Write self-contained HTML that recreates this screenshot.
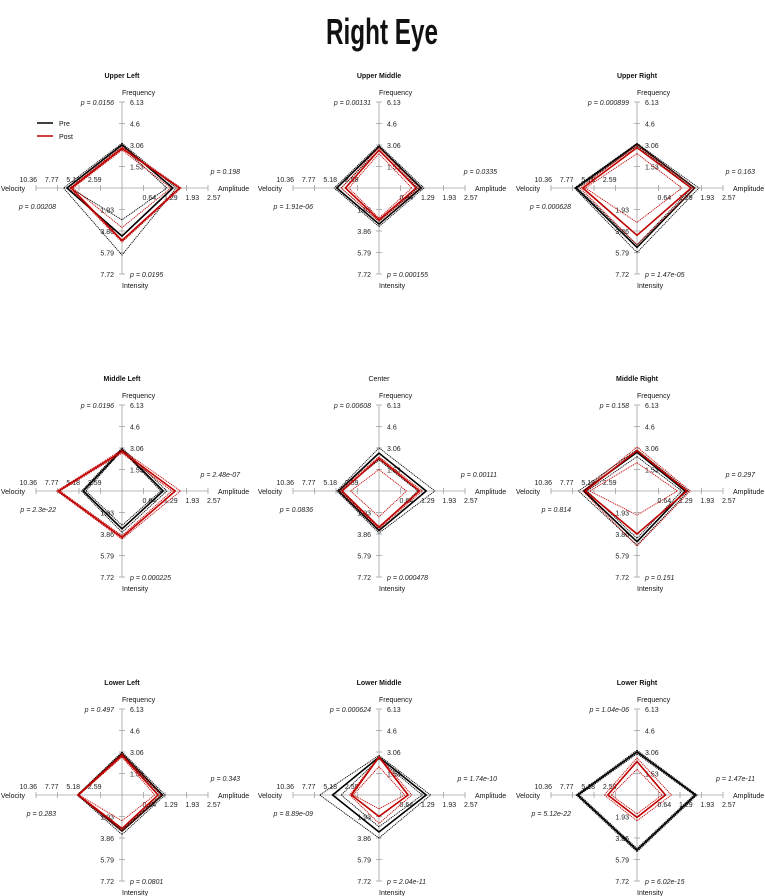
<!DOCTYPE html>
<html><head><meta charset="utf-8"><style>
html,body{margin:0;padding:0;background:#fff;}
svg{display:block;font-family:"Liberation Sans",sans-serif;}
</style></head><body>
<svg id="chart" width="765" height="896" viewBox="0 0 765 896">
<text x="382" y="44" text-anchor="middle" font-size="36" font-weight="bold" textLength="112" lengthAdjust="spacingAndGlyphs" fill="#111">Right Eye</text>
</svg>
<script>
const panelTitles = ["Upper Left","Upper Middle","Upper Right","Middle Left","Center","Middle Right","Lower Left","Lower Middle","Lower Right"];
const axisNames = ["Frequency","Amplitude","Velocity","Intensity"];
const axisMax = [6.13, 2.57, 10.36, 7.72];
const freqTicks = ["1.53","3.06","4.6","6.13"];
const ampTicks = ["0.64","1.29","1.93","2.57"];
const velTicks = ["2.59","5.18","7.77","10.36"];
const intTicks = ["1.93","3.86","5.79","7.72"];
// values per panel: [Frequency, Amplitude, Velocity, Intensity]
const preMean = [[3.07,1.52,6.63,4.32],[2.94,1.26,5.08,3.24],[3.13,1.72,7.36,5.33],[2.94,1.23,4.66,3.40],[2.70,1.41,4.87,3.55],[2.76,1.44,6.42,4.55],[2.94,1.21,5.28,3.24],[2.70,1.41,5.59,3.32],[3.07,1.75,7.15,4.94]];
const preLo = [[2.94,1.34,6.22,2.86],[2.70,1.16,4.56,3.01],[3.00,1.64,7.15,5.10],[2.88,1.16,4.35,3.09],[2.21,1.16,4.66,3.32],[2.45,1.34,6.01,4.25],[2.82,1.16,5.18,3.09],[2.58,1.29,4.56,2.86],[2.94,1.70,6.94,4.79]];
const preHi = [[3.19,1.62,7.04,6.02],[3.07,1.34,5.39,3.47],[3.19,1.85,7.56,5.79],[3.07,1.34,4.87,3.71],[3.07,1.67,5.08,3.78],[2.94,1.54,7.04,4.86],[3.07,1.29,5.39,3.55],[2.82,1.54,7.15,3.86],[3.19,1.80,7.36,5.10]];
const postMean = [[2.82,1.72,6.11,4.71],[2.70,1.11,4.04,2.86],[2.88,1.62,6.53,4.25],[2.82,1.59,7.67,4.17],[2.33,1.21,4.45,3.24],[2.88,1.49,6.22,3.86],[2.82,1.08,5.28,3.01],[2.70,0.87,3.32,1.93],[2.39,0.85,3.52,2.01]];
const postLo = [[2.70,1.46,5.91,3.55],[2.45,0.98,3.63,2.70],[2.45,1.34,6.22,3.09],[2.70,1.49,7.46,4.01],[1.53,0.82,3.42,2.32],[2.02,1.21,5.70,2.16],[2.70,0.98,5.18,2.32],[2.02,0.77,3.11,1.24],[1.84,0.75,3.11,1.70]];
const postHi = [[2.94,1.77,6.32,4.86],[2.88,1.21,4.56,3.01],[3.07,1.72,6.84,5.10],[2.94,1.75,7.87,4.32],[2.45,1.29,4.77,3.40],[3.13,1.59,6.53,4.94],[2.94,1.18,5.39,3.24],[2.76,0.98,3.52,2.55],[2.64,1.03,3.94,2.32]];
const pFreq = ["0.0156","0.00131","0.000899","0.0196","0.00608","0.158","0.497","0.000624","1.04e-06"];
const pAmp = ["0.198","0.0335","0.163","2.48e-07","0.00111","0.297","0.343","1.74e-10","1.47e-11"];
const pVel = ["0.00208","1.91e-06","0.000628","2.3e-22","0.0836","0.814","0.283","8.89e-09","5.12e-22"];
const pInt = ["0.0195","0.000155","1.47e-05","0.000225","0.000478","0.151","0.0801","2.04e-11","6.02e-15"];

const NS = "http://www.w3.org/2000/svg";
const svg = document.getElementById("chart");
const R = 86;
const colX = [122, 379, 637], rowY = [188, 491, 795];
function mk(tag, attrs, parent, txt) {
  const e = document.createElementNS(NS, tag);
  for (const k in attrs) e.setAttribute(k, attrs[k]);
  if (txt !== undefined) e.textContent = txt;
  parent.appendChild(e);
  return e;
}
// axis scale functions: value -> point
function pt(cx, cy, axis, v) {
  const r = v / axisMax[axis] * R;
  if (axis === 0) return [cx, cy - r];
  if (axis === 1) return [cx + r, cy];
  if (axis === 2) return [cx - r, cy];
  return [cx, cy + r];
}
function poly(cx, cy, vals) {
  const order = [0, 1, 3, 2];
  return order.map(a => pt(cx, cy, a, vals[a]).map(n => n.toFixed(2)).join(",")).join(" ");
}
panelTitles.forEach((title, i) => {
  const cx = colX[i % 3], cy = rowY[Math.floor(i / 3)];
  const g = mk("g", {}, svg);
  
  
  const t = mk("text", {x: cx, y: cy - 110, "text-anchor": "middle", "font-size": 7, "font-weight": title === "Center" ? "normal" : "bold", fill: "#111"}, g, title);
  
  
  // axes
  const ax = mk("g", {stroke: "#a0a0a0", "stroke-width": 0.8}, g);
  
  
  mk("line", {x1: cx, y1: cy - R, x2: cx, y2: cy + R}, ax);
  mk("line", {x1: cx - R, y1: cy, x2: cx + R, y2: cy}, ax);
  const tg = mk("g", {"font-size": 7, fill: "#222"}, g);
  
  
  for (let k = 1; k <= 4; k++) {
    const d = R * k / 4;
    mk("line", {x1: cx - 3, y1: cy - d, x2: cx + 3, y2: cy - d}, ax);
    mk("line", {x1: cx - 3, y1: cy + d, x2: cx + 3, y2: cy + d}, ax);
    mk("line", {x1: cx + d, y1: cy - 3, x2: cx + d, y2: cy + 3}, ax);
    mk("line", {x1: cx - d, y1: cy - 3, x2: cx - d, y2: cy + 3}, ax);
    mk("text", {x: cx + 8, y: cy - d + 3}, tg, freqTicks[k - 1]);
    mk("text", {x: cx + d - 1, y: cy + 12}, tg, ampTicks[k - 1]);
    mk("text", {x: cx - d + 1, y: cy - 6, "text-anchor": "end"}, tg, velTicks[k - 1]);
    mk("text", {x: cx - 8, y: cy + d + 3, "text-anchor": "end"}, tg, intTicks[k - 1]);
  }
  const lg = mk("g", {"font-size": 7, fill: "#111"}, g);
  
  
  mk("text", {x: cx, y: cy - 93}, lg, axisNames[0]);
  mk("text", {x: cx + 96, y: cy + 3}, lg, axisNames[1]);
  mk("text", {x: cx - 97, y: cy + 3, "text-anchor": "end"}, lg, axisNames[2]);
  mk("text", {x: cx, y: cy + 100}, lg, axisNames[3]);
  const pg = mk("g", {"font-size": 7, fill: "#222", "font-style": "italic"}, g);
  
  
  mk("text", {x: cx - 8, y: cy - R + 3, "text-anchor": "end"}, pg, "p = " + pFreq[i]);
  mk("text", {x: cx + 118, y: cy - 14, "text-anchor": "end"}, pg, "p = " + pAmp[i]);
  mk("text", {x: cx - 66, y: cy + 21, "text-anchor": "end"}, pg, "p = " + pVel[i]);
  mk("text", {x: cx + 8, y: cy + R + 3}, pg, "p = " + pInt[i]);
  // series
  const series = [
    ["pre", "#000", preMean[i], preLo[i], preHi[i]],
    ["post", "#c00000", postMean[i], postLo[i], postHi[i]]
  ];
  series.forEach(([nm, col, m, lo, hi]) => {
    const sg = mk("g", {fill: "none", stroke: col}, g);
    
    
    const a = mk("polygon", {points: poly(cx, cy, lo), "stroke-width": 0.9, "stroke-dasharray": "1.2 0.8"}, sg);
    
    
    const b = mk("polygon", {points: poly(cx, cy, hi), "stroke-width": 0.9, "stroke-dasharray": "1.2 0.8"}, sg);
    
    
    const c = mk("polygon", {points: poly(cx, cy, m), "stroke-width": 1.6}, sg);
    
    
  });
});
// legend
const leg = mk("g", {"font-size": 7, fill: "#111"}, svg);


const l1 = mk("line", {x1: 37, y1: 123, x2: 53, y2: 123, stroke: "#000", "stroke-width": 1.5}, leg);


mk("text", {x: 59, y: 126}, leg, "Pre");
const l2 = mk("line", {x1: 37, y1: 136, x2: 53, y2: 136, stroke: "#c00000", "stroke-width": 1.5}, leg);


mk("text", {x: 59, y: 139}, leg, "Post");
</script>
</body></html>
